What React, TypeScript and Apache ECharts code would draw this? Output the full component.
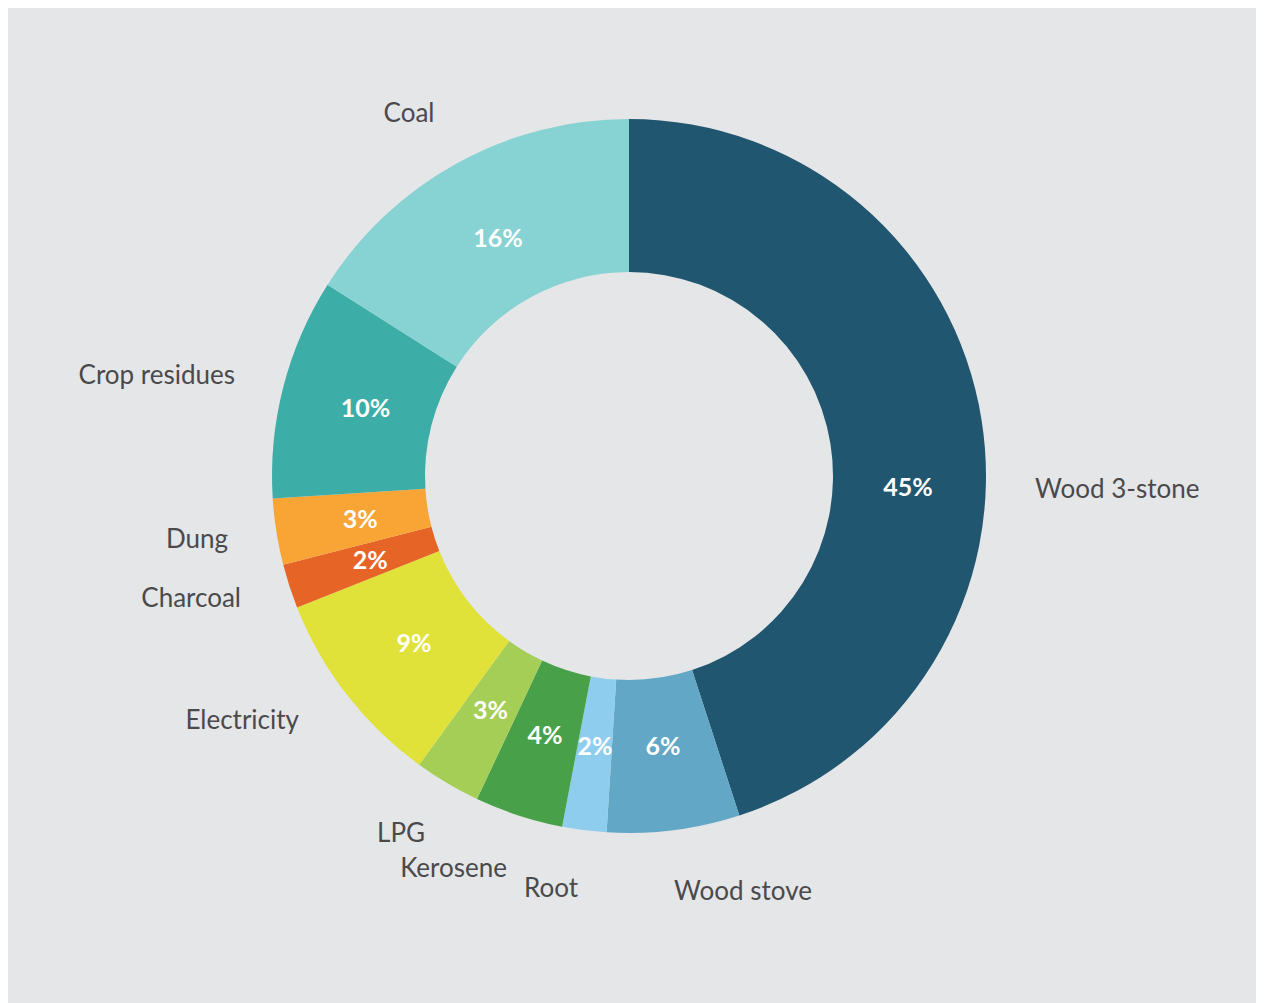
import React, { useEffect, useRef } from "react";
import * as echarts from "echarts";

const categories = [
  "Wood 3-stone",
  "Wood stove",
  "Root",
  "Kerosene",
  "LPG",
  "Electricity",
  "Charcoal",
  "Dung",
  "Crop residues",
  "Coal",
];
const shares = [45, 6, 2, 4, 3, 9, 2, 3, 10, 16];
const colors = [
  "#215670",
  "#62a7c5",
  "#8ecdee",
  "#48a148",
  "#a5ce57",
  "#e0e23a",
  "#e66425",
  "#f8a535",
  "#3daea7",
  "#87d2d3",
];

// label anchors relative to the pie centre: [dx, dy, align]
const nameLabelOffsets: [number, number, string][] = [
  [406, 12, "left"],
  [114, 414, "center"],
  [-78, 411, "center"],
  [-122, 391, "right"],
  [-204, 356, "right"],
  [-330, 243, "right"],
  [-388, 121, "right"],
  [-401, 62, "right"],
  [-394, -102, "right"],
  [-220, -364, "center"],
];

const CENTER = [621, 468];
const RADIUS = [204, 357];
const PCT_RADIUS = 272;
const FONT = "Lato, 'Open Sans', sans-serif";

export default function App() {
  const ref = useRef<HTMLDivElement>(null);
  useEffect(() => {
    if (!ref.current) return;
    const chart = echarts.init(ref.current, undefined, { renderer: "svg" });
    const total = shares.reduce((a, b) => a + b, 0);
    const mids: number[] = [];
    let cum = 0;
    shares.forEach((s) => {
      mids.push(((cum + s / 2) / total) * Math.PI * 2);
      cum += s;
    });
    const data = categories.map((name, i) => ({
      name,
      value: shares[i],
      itemStyle: { color: colors[i] },
    }));
    chart.setOption({
      animation: false,
      backgroundColor: "#e5e6e7",
      series: [
        {
          type: "pie",
          center: CENTER,
          radius: RADIUS,
          startAngle: 90,
          clockwise: true,
          silent: true,
          data,
          itemStyle: { borderWidth: 0 },
          label: {
            show: true,
            position: "inside",
            formatter: "{c}%",
            color: "#ffffff",
            fontFamily: FONT,
            fontWeight: "bold",
            fontSize: 25,
          },
          labelLine: { show: false },
          labelLayout: (p: any) => {
            if (p.dataIndex === 0) {
              return {
                x: CENTER[0] + 279,
                y: CENTER[1] + 10,
                align: "center",
                verticalAlign: "middle",
              };
            }
            const a = mids[p.dataIndex];
            return {
              x: CENTER[0] + PCT_RADIUS * Math.sin(a),
              y: CENTER[1] - PCT_RADIUS * Math.cos(a) - 1,
              align: "center",
              verticalAlign: "middle",
            };
          },
        },
        {
          type: "pie",
          center: CENTER,
          radius: RADIUS,
          startAngle: 90,
          clockwise: true,
          silent: true,
          data: categories.map((name, i) => ({
            name,
            value: shares[i],
            itemStyle: { color: "rgba(0,0,0,0)" },
          })),
          label: {
            show: true,
            position: "outside",
            formatter: "{b}",
            color: "#4a4a4c",
            fontFamily: FONT,
            fontSize: 26,
          },
          labelLine: { show: false },
          labelLayout: (p: any) => {
            const o = nameLabelOffsets[p.dataIndex];
            return {
              x: CENTER[0] + o[0],
              y: CENTER[1] + o[1],
              align: o[2],
              verticalAlign: "middle",
            };
          },
        },
      ],
    });
    return () => chart.dispose();
  }, []);
  return <div ref={ref} style={{ width: 1248, height: 995 }} />;
}
